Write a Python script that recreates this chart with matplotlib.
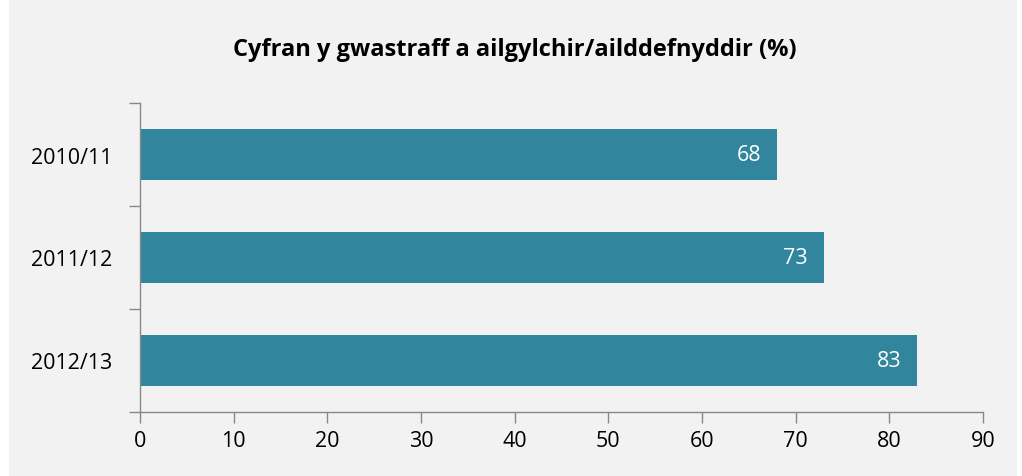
import matplotlib
matplotlib.use("Agg")
import matplotlib.pyplot as plt
from matplotlib.patches import Rectangle

categories = ["2010/11", "2011/12", "2012/13"]
values = [68, 73, 83]
xticks = [0, 10, 20, 30, 40, 50, 60, 70, 80, 90]
title = "Cyfran y gwastraff a ailgylchir/ailddefnyddir (%)"

plt.rcParams['font.family'] = ['Open Sans', 'DejaVu Sans']

fig = plt.figure(figsize=(10.22, 4.77), dpi=100)
fig.patch.set_facecolor('white')
fig.patches.append(Rectangle((9/1022, 0), (1017-9)/1022, 1, transform=fig.transFigure,
                             facecolor='#f2f2f2', edgecolor='none', zorder=-1))

ax = fig.add_axes([140/1022, 1-413/477, (983-140)/1022, (413-104)/477])
ax.set_facecolor('none')

ypos = list(range(len(categories)))
ax.barh(ypos, values, height=0.49, color='#31859c', zorder=2)
for y, v in zip(ypos, values):
    ax.text(v - 1.7, y, str(v), color='white', ha='right', va='center', fontsize=15.5)

ax.set_xlim(0, 90)
ax.set_ylim(len(categories) - 0.5, -0.5)
ax.set_xticks(xticks)
ax.set_xticklabels([str(t) for t in xticks], fontsize=15.5)
ax.set_yticks(ypos)
ax.set_yticklabels(categories, fontsize=15.5)
ax.tick_params(axis='y', length=0, pad=20)
ax.set_yticks([-0.5, 0.5, 1.5, 2.5], minor=True)
ax.tick_params(axis='y', which='minor', length=8, color='#888888', width=1)
ax.tick_params(axis='x', length=8, color='#888888', width=1, pad=5)

for s in ['top', 'right']:
    ax.spines[s].set_visible(False)
for s in ['left', 'bottom']:
    ax.spines[s].set_color('#888888')
    ax.spines[s].set_linewidth(1)

fig.text(515/1022, 1-50/477, title, ha='center', va='center', fontsize=17, fontweight='bold')

fig.savefig("out.png", dpi=100)
